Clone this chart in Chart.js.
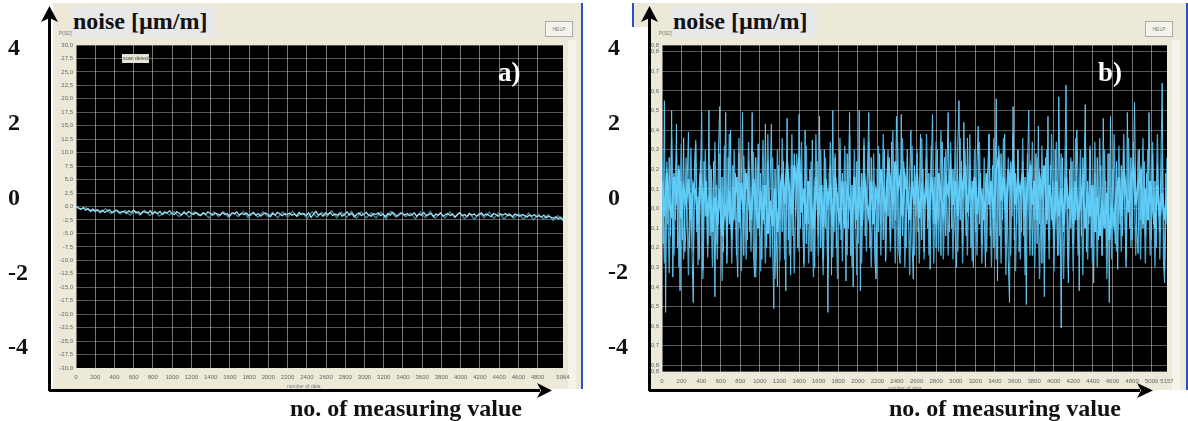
<!DOCTYPE html>
<html>
<head>
<meta charset="utf-8">
<title>noise</title>
<script src="https://cdn.jsdelivr.net/npm/chart.js@4/dist/chart.umd.min.js"></script>
<style>
  html, body { margin: 0; padding: 0; background: #fff; }
  #page { position: relative; width: 1188px; height: 421px; overflow: hidden; font-family: "Liberation Serif", serif; }
  #page div, #page canvas, #page svg { position: absolute; }
  #page canvas { filter: blur(0.45px); }
  .panel { background: #ece9d8; }
  .blue { background: #2a52c8; }
  .strip { background: #f6f4ea; }
  .yname { background: #e8e8e8; font-weight: bold; font-size: 24px; line-height: 31px; height: 32px; width: 145px; top: 6px; text-indent: 1px; color: #111; }
  .xname { font-weight: bold; font-size: 24px; line-height: 26px; top: 395px; white-space: nowrap; color: #111; }
  .letter { font-weight: bold; font-size: 27px; line-height: 30px; top: 57px; color: #fff; }
  .tiny { font-family: "Liberation Sans", sans-serif; font-size: 5px; color: #777; white-space: nowrap; }
  .help { background: #f4f3ec; border: 1px solid #aaa; width: 26px; height: 14px; top: 21px; text-align: center; line-height: 14px; }
  .scan { background: #e8e6d4; border: 1px solid #ddd; left: 122px; top: 54px; width: 25px; height: 7px; line-height: 7px; text-align: center; color: #444; }
</style>
</head>
<body>
<div id="page">
  <div class="panel" style="left:53px;top:3px;width:528px;height:386px"></div>
  <div class="blue" style="left:581px;top:3px;width:2px;height:386px"></div>
  <div class="strip" style="left:568px;top:40px;width:8px;height:349px"></div>
  <div class="panel" style="left:634px;top:3px;width:552px;height:24px"></div>
  <div class="panel" style="left:650px;top:27px;width:536px;height:363px"></div>
  <div class="blue" style="left:632px;top:3px;width:2px;height:24px"></div>
  <div class="blue" style="left:1186px;top:3px;width:2px;height:387px"></div>
  <div class="strip" style="left:1172px;top:40px;width:8px;height:350px"></div>

  <canvas id="chart-a" style="left:0;top:0"></canvas>
  <canvas id="chart-b" style="left:600px;top:0"></canvas>

  <div class="tiny" style="left:59px;top:30px">P(SD)</div>
  <div class="tiny" style="left:659px;top:30px">P(SD)</div>
  <div class="tiny help" style="left:545px">HELP</div>
  <div class="tiny help" style="left:1145px">HELP</div>
  <div class="tiny scan">scan detector</div>
  <div class="tiny" style="left:287px;top:383px">number of data</div>
  <div class="tiny" style="left:888px;top:385px">number of data</div>

  <div class="yname" style="left:72px">noise [µm/m]</div>
  <div class="yname" style="left:672px">noise [µm/m]</div>
  <div class="xname" style="left:290px">no. of measuring value</div>
  <div class="xname" style="left:889px">no. of measuring value</div>
  <div class="letter" style="left:498px">a)</div>
  <div class="letter" style="left:1098px">b)</div>

  <svg width="1188" height="421" style="left:0;top:0">
    <path d="M49.500 391V14M49 390.500H540" stroke="#000" stroke-width="3" fill="none"/>
    <path d="M49.500 6L41 22L49.500 18L58 22Z M552 390.500L537 383L541 390.500L537 398Z" fill="#000"/>
    <path d="M649.500 391V14M649 390.500H1140" stroke="#000" stroke-width="3" fill="none"/>
    <path d="M649.500 6L641 22L649.500 18L658 22Z M1153 390.500L1137 383L1141 390.500L1137 398Z" fill="#000"/>
  </svg>
</div>

<script>
'use strict';

// outer axis drawn over the screenshots
let outerTicks = [4, 2, 0, -2, -4];

// chart a) screen scale
let xTicksA = [0, 200, 400, 600, 800, 1000, 1200, 1400, 1600, 1800, 2000, 2200, 2400, 2600, 2800, 3000, 3200, 3400, 3600, 3800, 4000, 4200, 4400, 4600, 4800, 5064];
let yTicksA = [30, 27.5, 25, 22.5, 20, 17.5, 15, 12.5, 10, 7.5, 5, 2.5, 0, -2.5, -5, -7.5, -10, -12.5, -15, -17.5, -20, -22.5, -25, -27.5, -30];

// chart b) screen scale
let xTicksB = [0, 200, 400, 600, 800, 1000, 1200, 1400, 1600, 1800, 2000, 2200, 2400, 2600, 2800, 3000, 3200, 3400, 3600, 3800, 4000, 4200, 4400, 4600, 4800, 5000, 5157];
let yTicksB = [0.83, 0.8, 0.7, 0.6, 0.5, 0.4, 0.3, 0.2, 0.1, 0, -0.1, -0.2, -0.3, -0.4, -0.5, -0.6, -0.7, -0.8, -0.83];

// in a), in tenths of the screen unit
let traceA = [
  0, -3, -5, -2, -7, -4, -8, -5, -9, -6,
  -10, -7, -11, -8, -6, -12, -9, -7, -11, -10,
  -9, -13, -8, -11, -7, -12, -10, -14, -9, -11,
  -12, -8, -14, -10, -13, -9, -15, -11, -12, -8,
  -13, -15, -10, -12, -16, -11, -14, -9, -13, -15,
  -11, -14, -17, -12, -15, -10, -13, -16, -12, -14,
  -16, -11, -15, -13, -18, -12, -14, -10, -16, -13,
  -15, -12, -17, -14, -11, -16, -13, -18, -14, -12,
  -15, -19, -13, -16, -11, -14, -17, -13, -15, -12,
  -16, -14, -18, -11, -15, -13, -17, -12, -20, -14,
  -9, -16, -13, -18, -12, -15, -11, -17, -14, -16,
  -12, -18, -14, -10, -16, -13, -19, -15, -12, -17,
  -14, -11, -16, -18, -13, -15, -12, -17, -14, -19,
  -13, -16, -11, -15, -18, -14, -12, -16, -13, -17,
  -15, -12, -18, -14, -16, -11, -17, -15, -13, -19,
  -14, -16, -12, -18, -15, -13, -17, -14, -20, -15,
  -12, -17, -15, -19, -13, -16, -14, -18, -15, -12,
  -17, -14, -16, -19, -13, -15, -18, -14, -16, -13,
  -17, -15, -19, -14, -16, -18, -15, -17, -20, -16,
  -18, -15, -19, -17, -20, -16, -21, -18, -20, -22,
  -19, -23, -20, -24
];

// the darker fringe round that trace
let fringeA = [
  1, -5, -2, -10, -5, -12, -4, -13, -6, -14,
  -7, -16, -8, -16, -7, -17, -9, -18, -9, -16,
  -10, -19, -9, -20, -10, -17, -11, -21, -10, -19,
  -10, -20, -11, -19, -9, -21, -12, -20, -10, -19,
  -11, -21, -10, -20, -9, -18, -12, -22, -10, -20,
  -11, -19, -8, -21, -11, -20, -9, -22, -10, -21,
  -12, -21, -10, -23, -9, -20, -11, -19, -12, -23,
  -10, -21, -9, -22, -12, -21, -10, -20, -11, -23,
  -13, -24, -12, -21, -10, -22, -11, -24, -13, -22,
  -13, -24, -12, -25, -14, -23, -15, -26, -17, -27
];

// read off the spikes in b), in hundredths of the screen unit
let traceB = [
  12, -18, 55, -53, 20, -8, 26, -14, 50, -35, 18, -6, 43, -20, 22, -42, 14, -16, 36, -22,
  -10, 16, 39, -20, 8, -24, -48, 22, 33, -12, 6, -26, 18, 49, -31, 24, -4, 14, -18, 50,
  -14, 20, -6, 24, -45, 12, -18, 30, 52, -10, 16, -22, 8, 49, -28, 26, -8, 40, -16, 22,
  -6, 18, -20, -35, 28, -10, 14, 49, -24, 20, 4, -16, 24, -12, 10, 49, -22, -35, 26, -4,
  33, -14, 18, -26, 12, -8, 43, -20, 24, -6, 16, 43, -18, -51, 20, -10, -40, 22, -6, 14,
  -12, 24, -8, -42, 46, -16, 10, -34, 22, -14, 28, -4, 12, -20, 48, -10, 18, -6, -28, 40,
  -18, 14, -8, 20, -22, 35, -6, -30, 16, 24, -14, 47, -20, 12, -26, 30, -10, 6, -53, 18,
  22, -34, 50, -12, 26, -20, 8, -6, 30, -16, 18, -8, 14, -37, 28, -10, 49, -24, 12, -40,
  16, -10, 24, -18, 50, -42, 18, -6, 32, -14, 6, 22, 49, -20, 26, -8, 14, -26, -36, 20,
  -12, 28, -8, 18, -16, 30, -27, 14, -4, 26, -18, 34, -10, 20, -6, 47, 12, -22, -28, 48,
  -14, 24, 6, -20, 30, -8, 16, 40, -18, -36, 22, -4, 28, -12, 8, 38, -16, 20, -22, 12,
  26, -10, 18, -31, 22, 48, -8, 16, -20, 30, -6, 12, -24, 34, 4, 26, -14, 20, 49, -12,
  28, -10, 20, 6, -16, -30, 32, 55, -6, 24, -18, 44, 10, -14, 36, -4, 22, -20, 14, -30,
  16, -12, 24, 42, -8, 18, -18, 10, -4, -30, 14, 20, 38, -14, 6, 22, -20, 12, 56, -37,
  20, -14, 28, -6, 14, 38, -18, 8, -26, -48, 24, -4, 52, -16, 18, -8, 30, -22, 10, -12,
  24, -14, 16, -49, 20, 50, -10, 22, -24, 14, -6, 28, -18, 42, -8, 12, -28, 18, -45, 26,
  -8, 47, -16, 22, -6, 14, -20, 30, 4, -24, 57, 10, -61, 26, -12, 18, 63, -14, -38, 20,
  -10, 24, -18, 12, -6, 40, 16, -42, 20, -14, 26, 8, 53, -22, 14, -8, 30, -20, 10, -38,
  18, -12, 26, -16, 8, 22, -24, 46, -6, 14, -20, 28, -48, 47, -10, 20, 4, -18, 24, -31,
  14, -8, 22, -14, 30, -4, -30, 49, 10, -10, 26, -16, 18, 54, 6, -12, -23, 30, -6, 20,
  -10, 24, -14, 18, -6, 49, 12, -16, 28, -8, 14, -20, 22, 4, -12, 26, 64, -27, -38, 18, -8
];

// the dimmer band of middle height in b)
let bandB = [
  30, -28, 24, -33, 36, -24, 28, -30, 33, -26,
  26, -34, 31, -22, 35, -29, 24, -36, 30, -25,
  22, -30, 34, -26, 28, -37, 32, -24, 38, -28,
  30, -24, 36, -32, 27, -26, 34, -22, 29, -35,
  24, -32, 35, -28, 38, -25, 26, -36, 30, -27,
  36, -26, 30, -24, 38, -33, 28, -22, 34, -30,
  32, -28, 24, -35, 38, -24, 30, -34, 26, -30,
  34, -25, 28, -36, 36, -27, 32, -24, 38, -30,
  30, -34, 26, -28, 36, -22, 34, -30, 28, -33,
  32, -24, 38, -26, 30, -22, 40, -28, 34, -24,
  36, -30, 26, -34, 32, -24, 30, -28, 36, -26,
  38, -24, 32, -28, 34, -22, 40, -26, 30, -24,
  34, -26, 40, -22, 36, -28, 30, -24, 38, -27,
  30, -24, 34, -28, 26, -22, 38, -30, 36, -26,
  32, -28, 36, -34, 26, -24, 38, -32, 30, -26,
  36, -34, 28, -24, 34, -30, 26, -36, 32, -28,
  30, -26, 38, -32, 34, -24, 28, -36, 32, -30,
  26, -32, 36, -24, 30, -34, 38, -26, 32, -28,
  34, -30, 36, -24, 30, -36, 28, -26, 38, -22,
  32, -22, 38, -26, 36, -20, 34, -24, 30, -26,
  36, -28, 30, -24, 34, -30, 38, -26, 28, -32, 26
];

// the bright core of b)
let coreB = [
  14, -4, 18, 2, -3, 16, 6, 20, -5, 10,
  3, 15, -6, 12, 8, -8, 18, 2, 11, -4,
  8, -12, 6, -8, 10, -14, 2, -6, 9, -11,
  4, 16, -7, 13, -2, 18, 5, -6, 15, 1,
  -10, 9, -6, 12, -13, 4, -9, 10, -12, 6,
  18, 2, 24, 8, -3, 22, 12, 26, -2, 10,
  -8, 14, 2, -10, 16, -4, 12, -9, 15, 3,
  12, -9, 16, 2, -6, 14, -10, 10, 4, -8,
  16, -6, 11, -9, 18, 3, -4, 14, -8, 9,
  4, 20, 8, -2, 22, 14, 2, 24, 10, 16,
  -4, 16, 8, -6, 14, 2, 18, -5, 10, 3,
  12, -6, 16, 4, -8, 18, 6, -3, 14, 8,
  20, 2, 14, -4, 18, 8, 22, -2, 12, 5,
  16, -3, 12, 6, -6, 18, 2, 14, -5, 20,
  26, 4, 16, -2, 20, 10, 24, 2, 14, 8,
  18, -4, 12, 20, 2, 14, -6, 16, 8, 22,
  -6, 12, 2, -10, 14, -4, 10, -8, 16, 0,
  10, -8, 14, -6, 4, 12, -10, 8, -4, 12,
  -12, 6, -14, 4, -10, 8, -16, 2, -8, 6,
  16, -4, 20, 8, -2, 14, 22, 2, 12, 18,
  -8, 10, -6, 14, 2, -10, 12, -4, 8, -6, 6
];

let plotBackground = {
  id: 'plotBackground',
  beforeDraw(chart) {
    let area = chart.chartArea;
    chart.ctx.fillStyle = '#000';
    chart.ctx.fillRect(area.left, area.top, area.width, area.height);
  }
};

function toPoints(trace, xMax, scale) {
  let points = [];
  for (let i = 0; i < trace.length; i++) {
    points.push({ x: xMax * i / (trace.length - 1), y: trace[i] * scale });
  }
  return points;
}

function layer(points, color, width) {
  return { data: points, borderColor: color, borderWidth: width, pointRadius: 0, tension: 0, yAxisID: 'y' };
}

function commaLabel(value) {
  return value.toFixed(1).replace('.', ',');
}

function renderChart(canvasId, opts) {
  let canvasElem = document.getElementById(canvasId);
  canvasElem.width = opts.width;
  canvasElem.height = 421;
  canvasElem.style.width = opts.width + 'px';
  canvasElem.style.height = '421px';

  let chartObj = {
    type: 'line',
    data: { datasets: opts.layers },
    options: {
      responsive: false,
      animation: false,
      layout: { padding: { left: 8, top: 45, right: opts.right, bottom: 0 } },
      plugins: { legend: { display: false }, tooltip: { enabled: false } },
      scales: {
        x: {
          type: 'linear',
          min: 0,
          max: opts.xMax,
          afterBuildTicks: (scale) => { scale.ticks = opts.xTicks.map((v) => ({ value: v })); },
          afterFit: (scale) => { scale.height = opts.xAxisHeight; },
          grid: { color: 'rgba(235,235,235,0.5)', lineWidth: 1, tickLength: 3 },
          border: { display: false },
          ticks: { color: '#666', font: { size: 6, family: 'Liberation Sans' }, maxRotation: 0, autoSkip: false, padding: 3, callback: (value) => String(value) }
        },
        y: {
          position: 'left',
          weight: 0,
          min: opts.yMin,
          max: opts.yMax,
          afterBuildTicks: (scale) => { scale.ticks = opts.yTicks.map((v) => ({ value: v })); },
          afterFit: (scale) => { scale.width = 18; },
          grid: { color: 'rgba(225,225,225,0.38)', lineWidth: 1, tickLength: 2 },
          border: { display: false },
          ticks: { color: '#666', font: { size: 6, family: 'Liberation Sans' }, autoSkip: false, padding: 1, callback: commaLabel }
        },
        outer: {
          position: 'left',
          weight: 1,
          min: opts.outerMin,
          max: 4.104,
          afterBuildTicks: (scale) => { scale.ticks = outerTicks.map((v) => ({ value: v })); },
          afterFit: (scale) => { scale.width = opts.outerWidth; },
          grid: { display: false },
          border: { display: false },
          ticks: {
            color: '#111',
            crossAlign: 'far',
            autoSkip: false,
            font: { size: 24, weight: 'bold', family: 'Liberation Serif' },
            callback: (value) => String(value)
          }
        }
      }
    },
    plugins: [plotBackground]
  };

  return new Chart(canvasElem, chartObj); //eslint-disable-line
}

renderChart('chart-a', {
  width: 590,
  right: 27,
  layers: [
    layer(toPoints(traceA, 5064, 0.1), '#a8deee', 1.3),
    layer(toPoints(fringeA, 5064, 0.1), '#3f8fae', 1.2)
  ],
  xMax: 5064,
  xTicks: xTicksA,
  xAxisHeight: 53,
  yMin: -30,
  yMax: 30,
  yTicks: yTicksA,
  outerMin: -4.53,
  outerWidth: 50
});

renderChart('chart-b', {
  width: 588,
  right: 21,
  layers: [
    layer(toPoints(coreB, 5157, 0.01), '#5fcdf8', 2.2),
    layer(toPoints(traceB, 5157, 0.01), '#62c4ee', 1),
    layer(toPoints(bandB, 5157, 0.01), '#48a4cc', 1.3)
  ],
  xMax: 5157,
  xTicks: xTicksB,
  xAxisHeight: 49,
  yMin: -0.834,
  yMax: 0.834,
  yTicks: yTicksB,
  outerMin: -4.64,
  outerWidth: 36
});
</script>
</body>
</html>
